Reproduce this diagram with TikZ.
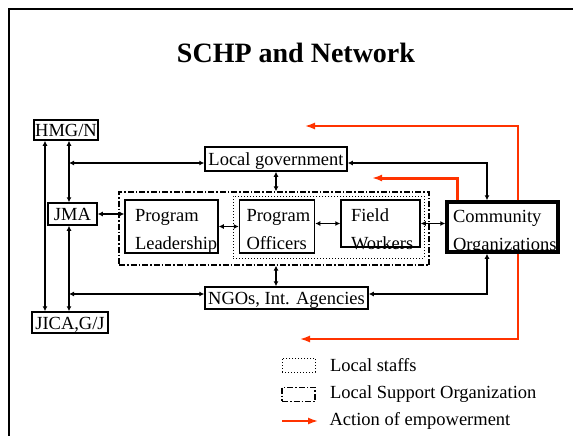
\documentclass[tikz,border=0pt]{standalone}
\usepackage{fontspec}
\setmainfont{Liberation Serif}
\usetikzlibrary{positioning,arrows.meta}
\definecolor{empred}{RGB}{255,51,0}
\newcommand{\boxfont}{\fontsize{18.5}{28}\selectfont}

\begin{document}
\begin{tikzpicture}[x=1pt,y=-1pt,
	box/.style={draw, line width=1.5pt, font=\boxfont, inner sep=1pt, text height=15pt, text depth=2pt},
	unit/.style={draw, line width=1.5pt, font=\boxfont, align=left, inner ysep=0pt, text height=21pt, text depth=32pt},
	link/.style={line width=1.5pt, {Latex[length=5pt,width=5pt]}-{Latex[length=5pt,width=5pt]}},
	empower/.style={empred, line width=1.6pt, -{Latex[length=10pt,width=7pt]}},
	staffbox/.style={draw, line width=1pt, dotted},
	lsobox/.style={draw, line width=1.3pt, dash pattern=on 6pt off 2pt on 1.5pt off 2pt},
	]
	\useasboundingbox (0,0) rectangle (573,436);
	\draw[line width=2pt] (9,436) -- (9,9) -- (573,9);

	\node[font=\fontsize{28}{32}\selectfont\bfseries] (title) at (296,53) {SCHP and Network};

	\node[box, minimum width=64pt, minimum height=20pt] (hmg) at (66,130) {HMG/N};
	\node[box, minimum width=49pt, minimum height=22pt] (jma) at (72.5,214) {JMA};
	\node[box, minimum width=76pt, minimum height=21pt] (jica) at (70,322.5) {JICA,G/J};
	\node[box, minimum width=142pt, minimum height=24pt] (locgov) at (276,159) {Local government};
	\node[box, minimum width=163pt, minimum height=22pt] (ngo) at (286.5,298) {NGOs, Int. Agencies};

	\node[lsobox, minimum width=310pt, minimum height=73pt] (support) at (274,228.5) {};
	\node[staffbox, minimum width=191pt, minimum height=62pt] (staff) at (328.5,227) {};

	\node[unit, text width=73pt, inner xsep=10pt] (lead) at (171.5,226.5) {Program\\Leadership};
	\node[unit, text width=61pt, inner xsep=7pt, right=20pt of lead] (off) {Program\\Officers};
	\node[unit, text width=59pt, inner xsep=10pt, text depth=26pt, right=25pt of off.north east, anchor=north west] (field) {Field\\Workers};
	\node[unit, text width=99pt, inner xsep=6pt, line width=3.5pt, text height=20pt, text depth=30pt] (comm) at (502.5,227) {Community\\Organizations};

	\coordinate (lx) at (45,0);
	\coordinate (rx) at (69,0);
	\coordinate (cx) at (487,0);
	\coordinate (ex) at (518,0);
	\coordinate (fx) at (457,0);
	\coordinate (tipa) at (305,126);
	\coordinate (tipb) at (372,178);
	\coordinate (tipc) at (300,339);

	\draw[link] (hmg.south -| lx) -- (jica.north -| lx);
	\draw[link] (hmg.south -| rx) -- (jma.north -| rx);
	\draw[link] (jma.south -| rx) -- (jica.north -| rx);
	\draw[link] ([yshift=-4pt]locgov.west -| rx) -- ([yshift=-4pt]locgov.west);
	\draw[link] ([yshift=-4pt]locgov.east) -| (comm.north -| cx);
	\draw[link] (locgov.south) -- (locgov.south |- support.north);
	\draw[link] (jma.east) -- (jma.east -| lead.west);
	\draw[link] (lead.east) -- (off.west);
	\draw[link] (field.west -| off.east) -- (field.west);
	\draw[link] (field.east) -- (field.east -| comm.west);
	\draw[link] (locgov.south |- support.south) -- (locgov.south |- ngo.north);
	\draw[link] ([yshift=4pt]ngo.west -| rx) -- ([yshift=4pt]ngo.west);
	\draw[link] ([yshift=4pt]ngo.east) -| (comm.south -| cx);

	\draw[empower] (comm.north -| ex) |- (tipa);
	\draw[empower, line width=3pt] (comm.north -| fx) |- (tipb);
	\draw[empower] (comm.south -| ex) |- (tipc);

	\node[staffbox, minimum width=33pt, minimum height=14pt] (keya) at (298.5,365) {};
	\node[lsobox, minimum width=33pt, minimum height=14pt, below=14pt of keya] (keyb) {};
	\coordinate (keyc) at (282,421);
	\coordinate (keyd) at (318,421);
	\draw[empower] (keyc) -- (keyd);
	\node[font=\boxfont, right=11pt of keya] (texta) {Local staffs};
	\node[font=\boxfont, right=11pt of keyb] (textb) {Local Support Organization};
	\node[font=\boxfont, right=8pt of keyd] (textc) {Action of empowerment};
\end{tikzpicture}
\end{document}
